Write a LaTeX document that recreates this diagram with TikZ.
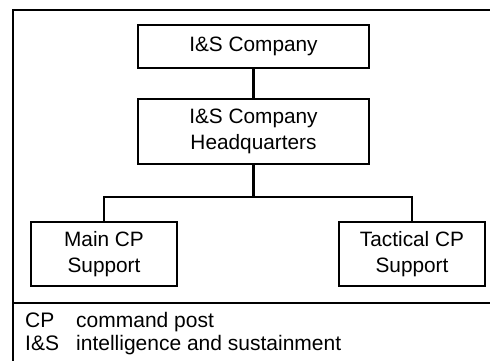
\documentclass[tikz,border=0pt]{standalone}
\usepackage{fontspec}
\setmainfont{Liberation Sans}
\begin{document}
\begin{tikzpicture}[x=1pt,y=-1pt,
  unitbox/.style={draw=black,line width=2.2pt,rectangle,align=center,inner sep=0pt,
    font=\fontsize{20.8}{26}\selectfont},
  link/.style={draw=black,line width=2.2pt},
  frame/.style={draw=black,line width=2.4pt},
  legend/.style={anchor=base west,inner sep=0pt,font=\fontsize{21}{24}\selectfont}]
\useasboundingbox (0,0) rectangle (490,360);
% outer frame and legend separator
\draw[frame] (13,366) -- (13,10) -- (496,10);
\draw[frame] (13,303) -- (496,303);
% organisation boxes
\node[unitbox,minimum width=231pt,minimum height=43pt] (co) at (253.5,46.5) {I\&S Company};
\node[unitbox,minimum width=231pt,minimum height=65pt] (hq) at (253.5,131.5) {I\&S Company\\Headquarters};
\node[unitbox,minimum width=146pt,minimum height=64pt] (main) at (104,254) {Main CP\\Support};
\node[unitbox,minimum width=146pt,minimum height=64pt] (tac) at (412,254) {Tactical CP\\Support};
% connectors
\coordinate (bus) at (253.5,197);
\draw[link] (co.south) -- (hq.north);
\draw[link] (hq.south) -- (bus);
\draw[link] (main.north) |- (bus) -| (tac.north);
% legend
\node[legend] (k1) at (25,327) {CP};
\node[legend] (v1) at (76,327) {command post};
\node[legend] (k2) at (25,350) {I\&S};
\node[legend] (v2) at (76,350) {intelligence and sustainment};
\end{tikzpicture}
\end{document}
